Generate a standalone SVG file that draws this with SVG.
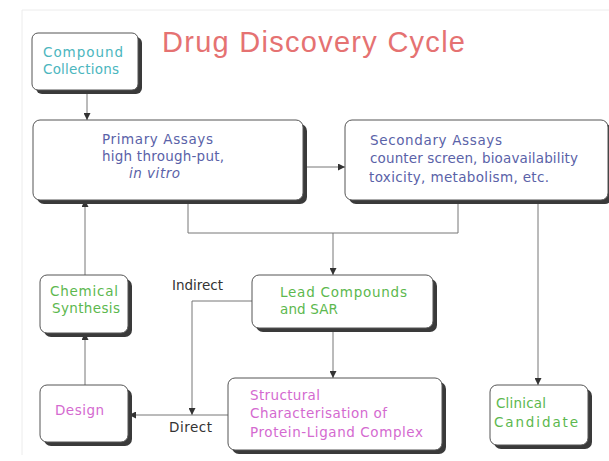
<svg xmlns="http://www.w3.org/2000/svg" width="609" height="461" viewBox="0 0 609 461">
<defs>
<marker id="ah" viewBox="0 0 10 10" refX="10" refY="5" markerWidth="7" markerHeight="7" markerUnits="userSpaceOnUse" orient="auto">
<path d="M0,0 L10,5 L0,10 z" fill="#333"/>
</marker>
<style>
.sh{fill:#3a3a3a}
.bx{fill:#fff;stroke:#555;stroke-width:1}
.t{font-family:"DejaVu Sans",Verdana,sans-serif;font-size:13.5px}
.blue{fill:#5a62a8}
.teal{fill:#4bb6be}
.green{fill:#5cb84e}
.pink{fill:#d46ad0}
.lbl{fill:#333}
.c{fill:none;stroke:#777;stroke-width:1}
.ca{fill:none;stroke:#777;stroke-width:1;marker-end:url(#ah)}
</style>
</defs>
<rect width="609" height="461" fill="#fff"/>
<path d="M22,455 V10 H609" fill="none" stroke="#ececec" stroke-width="1"/>
<text x="162" y="52" font-family="Liberation Sans, Arial, sans-serif" font-size="29" fill="#e57272" textLength="303">Drug Discovery Cycle</text>

<g id="connectors">
<path class="ca" d="M87,91 V120"/>
<path class="ca" d="M303,167 H345"/>
<path class="c" d="M188,200 V233 H458 V200"/>
<path class="ca" d="M333,233 V275"/>
<path class="ca" d="M333,328 V378"/>
<path class="ca" d="M538,200 V385"/>
<path class="ca" d="M85,275 V200"/>
<path class="ca" d="M85,385 V333"/>
<path class="ca" d="M252,301 H192 V415"/>
<path class="ca" d="M228,415 H129"/>
<text class="t lbl" x="172" y="290" font-size="13" textLength="51">Indirect</text>
<text class="t lbl" x="169" y="432" font-size="13" textLength="43">Direct</text>
</g>

<g id="compound-collections">
<rect class="sh" x="36" y="37" width="106" height="57" rx="6"/>
<rect class="bx" x="32" y="33" width="106" height="57" rx="6"/>
<text class="t teal" x="43" y="57" textLength="80">Compound</text>
<text class="t teal" x="43" y="74" textLength="76">Collections</text>
</g>

<g id="primary-assays">
<rect class="sh" x="37" y="124" width="270" height="80" rx="7"/>
<rect class="bx" x="33" y="120" width="270" height="80" rx="7"/>
<text class="t blue" x="102" y="144" textLength="111">Primary Assays</text>
<text class="t blue" x="102" y="161" textLength="122">high through-put,</text>
<text class="t blue" x="129" y="178" font-style="italic" textLength="51">in vitro</text>
</g>

<g id="secondary-assays">
<rect class="sh" x="349" y="124" width="263" height="80" rx="7"/>
<rect class="bx" x="345" y="120" width="263" height="80" rx="7"/>
<text class="t blue" x="370" y="145" textLength="132">Secondary Assays</text>
<text class="t blue" x="370" y="163" textLength="208">counter screen, bioavailability</text>
<text class="t blue" x="369" y="182" textLength="180">toxicity, metabolism, etc.</text>
</g>

<g id="lead-compounds">
<rect class="sh" x="256" y="279" width="181" height="53" rx="7"/>
<rect class="bx" x="252" y="275" width="181" height="53" rx="7"/>
<text class="t green" x="280" y="297" textLength="127">Lead Compounds</text>
<text class="t green" x="280" y="314" textLength="58">and SAR</text>
</g>

<g id="structural-characterisation">
<rect class="sh" x="232" y="382" width="214" height="72" rx="7"/>
<rect class="bx" x="228" y="378" width="214" height="72" rx="7"/>
<text class="t pink" x="250" y="400" textLength="70">Structural</text>
<text class="t pink" x="250" y="418" textLength="137">Characterisation of</text>
<text class="t pink" x="250" y="437" textLength="173">Protein-Ligand Complex</text>
</g>

<g id="clinical-candidate">
<rect class="sh" x="494" y="389" width="98" height="60" rx="7"/>
<rect class="bx" x="490" y="385" width="98" height="60" rx="7"/>
<text class="t green" x="496" y="408" textLength="50">Clinical</text>
<text class="t green" x="494" y="427" textLength="84">Candidate</text>
</g>

<g id="chemical-synthesis">
<rect class="sh" x="44" y="279" width="88" height="58" rx="7"/>
<rect class="bx" x="40" y="275" width="88" height="58" rx="7"/>
<text class="t green" x="50" y="296" textLength="68">Chemical</text>
<text class="t green" x="52" y="313" textLength="68">Synthesis</text>
</g>

<g id="design">
<rect class="sh" x="44" y="389" width="88" height="57" rx="7"/>
<rect class="bx" x="40" y="385" width="88" height="57" rx="7"/>
<text class="t pink" x="55" y="415" textLength="49">Design</text>
</g>
</svg>
